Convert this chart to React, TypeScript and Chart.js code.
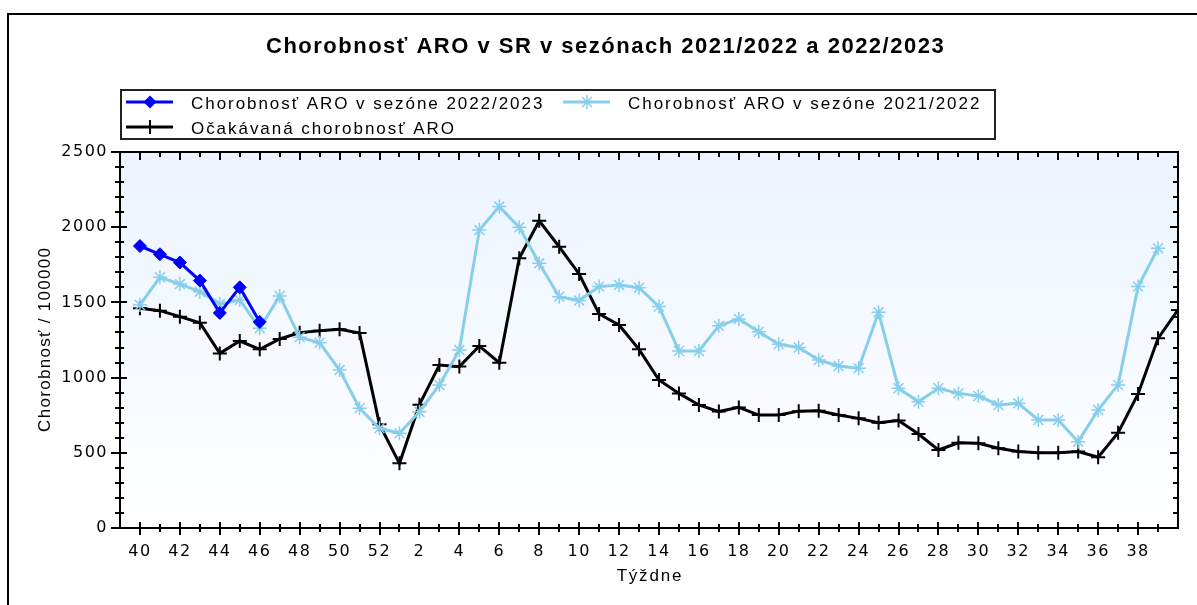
import React, { useEffect, useRef } from 'react';
import { Chart, registerables } from 'chart.js';

Chart.register(...registerables);

// ---- data ----
const weekLabels: string[] = [
  '40', '41', '42', '43', '44', '45', '46', '47', '48', '49', '50', '51', '52',
  '1', '2', '3', '4', '5', '6', '7', '8', '9', '10',
  '11', '12', '13', '14', '15', '16', '17', '18', '19', '20',
  '21', '22', '23', '24', '25', '26', '27', '28', '29', '30',
  '31', '32', '33', '34', '35', '36', '37', '38', '39', '40',
];

const seriesNames: string[] = [
  'Chorobnosť ARO v sezóne 2022/2023',
  'Chorobnosť ARO v sezóne 2021/2022',
  'Očakávaná chorobnosť ARO',
];

const season2223: number[] = [1875, 1820, 1765, 1645, 1430, 1600, 1370];

const season2122: number[] = [
  1483, 1667, 1622, 1571, 1490, 1516, 1328, 1543, 1268, 1232, 1050, 796, 663,
  630, 773, 951, 1183, 1981, 2137, 1999, 1760, 1538, 1512,
  1605, 1616, 1598, 1472, 1177, 1177, 1345, 1390, 1305, 1222,
  1200, 1117, 1077, 1062, 1434, 929, 840, 929, 895, 878,
  818, 829, 718, 718, 574, 785, 951, 1605, 1860,
];

const expected: number[] = [
  1461, 1445, 1405, 1365, 1161, 1243, 1188, 1257, 1299, 1312, 1321, 1296, 689,
  430, 820, 1084, 1073, 1210, 1099, 1793, 2043, 1870, 1689,
  1423, 1350, 1188, 984, 895, 818, 774, 802, 751, 751,
  777, 780, 751, 729, 700, 714, 625, 519, 567, 563,
  530, 508, 501, 501, 508, 470, 634, 891, 1261, 1450,
];

const chartTitle = 'Chorobnosť ARO v SR v sezónach 2021/2022 a 2022/2023';
const yTitle = 'Chorobnosť / 100000';
const xTitle = 'Týždne';
const yMin = 0;
const yMax = 2500;

// ---- style ----
const FONT = "'Liberation Sans', Arial, sans-serif";
const TICKFONT = "'DejaVu Sans', 'Liberation Sans', sans-serif";
const BLUE = '#0000ff';
const SKY = '#87ceeb';
const BLACK = '#000000';

const toPoints = (arr: number[]) => arr.map((v, i) => ({ x: i, y: v }));

function spaced(ctx: CanvasRenderingContext2D, text: string, x: number, y: number, sp: number, align: 'left' | 'center' | 'right') {
  ctx.letterSpacing = sp + 'px';
  ctx.textAlign = 'left';
  const w = ctx.measureText(text).width - sp;
  const sx = align === 'center' ? x - w / 2 : align === 'right' ? x - w : x;
  ctx.fillText(text, sx, y);
}

function marker(ctx: CanvasRenderingContext2D, kind: string, x: number, y: number, color: string) {
  ctx.save();
  ctx.strokeStyle = color;
  ctx.fillStyle = color;
  if (kind === 'diamond') {
    const r = 6.5;
    ctx.beginPath();
    ctx.moveTo(x, y - r); ctx.lineTo(x + r, y); ctx.lineTo(x, y + r); ctx.lineTo(x - r, y);
    ctx.closePath(); ctx.fill();
  } else if (kind === 'star') {
    const r = 7;
    ctx.lineWidth = 1.5;
    ctx.beginPath();
    for (let k = 0; k < 4; k++) {
      const a = (k * Math.PI) / 4;
      ctx.moveTo(x - r * Math.cos(a), y - r * Math.sin(a));
      ctx.lineTo(x + r * Math.cos(a), y + r * Math.sin(a));
    }
    ctx.stroke();
  } else {
    const r = 7;
    ctx.lineWidth = 2;
    ctx.beginPath();
    ctx.moveTo(x - r, y); ctx.lineTo(x + r, y);
    ctx.moveTo(x, y - r); ctx.lineTo(x, y + r);
    ctx.stroke();
  }
  ctx.restore();
}

const decorPlugin = {
  id: 'decor',
  beforeDraw(chart: any) {
    const { ctx, chartArea: a } = chart;
    ctx.save();
    const g = ctx.createLinearGradient(0, a.top, 0, a.bottom);
    g.addColorStop(0, '#ebf4ff');
    g.addColorStop(1, '#ffffff');
    ctx.fillStyle = g;
    ctx.fillRect(a.left, a.top, a.right - a.left, a.bottom - a.top);
    ctx.restore();
    ctx.letterSpacing = '1.5px';
  },
  beforeDatasetsDraw(chart: any) {
    chart.ctx.letterSpacing = '0px';
  },
  afterDraw(chart: any) {
    const { ctx, chartArea: a } = chart;
    const xs = chart.scales.x;
    const ys = chart.scales.y;
    ctx.save();
    ctx.letterSpacing = '0px';
    ctx.strokeStyle = '#000';
    ctx.lineWidth = 2;
    const line = (x1: number, y1: number, x2: number, y2: number) => {
      ctx.beginPath(); ctx.moveTo(x1, y1); ctx.lineTo(x2, y2); ctx.stroke();
    };
    // outer frame
    line(8, 14, 8, 605);
    line(7, 14, 1197, 14);
    // plot frame
    ctx.strokeRect(a.left, a.top, a.right - a.left, a.bottom - a.top);
    // y ticks
    ys.ticks.forEach((t: any) => {
      const y = Math.round(ys.getPixelForValue(t.value));
      const major = t.value % 500 === 0;
      line(a.left - (major ? 9 : 5), y, a.left + (major ? 7 : 4), y);
      line(a.right - (major ? 8 : 5), y, a.right, y);
    });
    // x ticks
    xs.ticks.forEach((t: any) => {
      const i = Math.round(t.value);
      if (i < 0 || i > weekLabels.length - 2) return;
      const x = Math.round(xs.getPixelForValue(i));
      const major = i % 2 === 0;
      line(x, a.bottom - (major ? 6 : 4), x, a.bottom + (major ? 7 : 4));
      line(x, a.top, x, a.top + (major ? 8 : 5));
    });

    // title
    ctx.fillStyle = '#000';
    ctx.textBaseline = 'alphabetic';
    ctx.font = `bold 22px ${FONT}`;
    spaced(ctx, chartTitle, 266, 53, 1.5, 'left');

    // axis titles
    ctx.font = `17px ${FONT}`;
    ctx.textBaseline = 'middle';
    spaced(ctx, xTitle, (a.left + a.right) / 2, 576, 1.8, 'center');
    ctx.save();
    ctx.translate(45, (a.top + a.bottom) / 2);
    ctx.rotate(-Math.PI / 2);
    spaced(ctx, yTitle, 0, 0, 1.3, 'center');
    ctx.restore();

    // legend
    ctx.lineWidth = 2;
    ctx.strokeStyle = '#222';
    ctx.strokeRect(121, 90, 874, 49);
    const items = [
      { name: seriesNames[0], color: BLUE, kind: 'diamond', x0: 126, y: 102 },
      { name: seriesNames[1], color: SKY, kind: 'star', x0: 563, y: 102 },
      { name: seriesNames[2], color: BLACK, kind: 'cross', x0: 126, y: 127 },
    ];
    items.forEach((it) => {
      ctx.strokeStyle = it.color;
      ctx.lineWidth = 3;
      line(it.x0, it.y, it.x0 + 47, it.y);
      marker(ctx, it.kind, it.x0 + 24, it.y, it.color);
      ctx.fillStyle = '#000';
      ctx.font = `17px ${FONT}`;
      ctx.textBaseline = 'alphabetic';
      spaced(ctx, it.name, it.x0 + 65, it.y + 7, 1.95, 'left');
    });
    ctx.restore();
  },
};

export default function App() {
  const ref = useRef<HTMLCanvasElement | null>(null);
  useEffect(() => {
    if (!ref.current) return;
    const chart = new Chart(ref.current, {
      type: 'line',
      data: {
        datasets: [
          {
            label: seriesNames[0],
            data: toPoints(season2223),
            borderColor: BLUE,
            backgroundColor: BLUE,
            borderWidth: 3,
            pointStyle: 'rectRot',
            pointRadius: 6.5,
            pointBorderWidth: 1,
            pointBackgroundColor: BLUE,
            pointBorderColor: BLUE,
            tension: 0,
          },
          {
            label: seriesNames[1],
            data: toPoints(season2122),
            borderColor: SKY,
            backgroundColor: SKY,
            borderWidth: 3,
            pointStyle: 'star',
            pointRadius: 7,
            pointBorderWidth: 1.5,
            pointBorderColor: SKY,
            tension: 0,
          },
          {
            label: seriesNames[2],
            data: toPoints(expected),
            borderColor: BLACK,
            backgroundColor: BLACK,
            borderWidth: 3,
            pointStyle: 'cross',
            pointRadius: 7,
            pointBorderWidth: 2,
            pointBorderColor: BLACK,
            tension: 0,
          },
        ],
      },
      options: {
        responsive: false,
        animation: false,
        events: [],
        layout: { padding: { top: 152, left: 0, right: 19, bottom: 0 } },
        plugins: {
          legend: { display: false },
          title: { display: false },
          tooltip: { enabled: false },
        },
        scales: {
          x: {
            type: 'linear',
            min: -1,
            max: weekLabels.length - 1,
            grid: { display: false, drawTicks: false },
            border: { display: false },
            ticks: {
              stepSize: 1,
              autoSkip: false,
              maxRotation: 0,
              minRotation: 0,
              color: '#000',
              padding: 14,
              font: { family: TICKFONT, size: 16 },
              callback: (v: any) => {
                const i = Math.round(Number(v));
                return i >= 0 && i <= weekLabels.length - 2 && i % 2 === 0 ? weekLabels[i] : '';
              },
            },
            afterFit: (s: any) => { s.height = 77; },
          },
          y: {
            min: yMin,
            max: yMax,
            grid: { display: false, drawTicks: false },
            border: { display: false },
            ticks: {
              stepSize: 100,
              autoSkip: false,
              color: '#000',
              padding: 12,
              font: { family: TICKFONT, size: 16 },
              callback: (v: any) => (Number(v) % 500 === 0 ? String(v) : ''),
            },
            afterFit: (s: any) => { s.width = 120; },
          },
        },
      } as any,
      plugins: [decorPlugin],
    });
    return () => chart.destroy();
  }, []);

  return (
    <div style={{ position: 'absolute', left: 0, top: 0, width: 1197, height: 605, background: '#fff' }}>
      <canvas ref={ref} width={1197} height={605} style={{ display: 'block' }} />
    </div>
  );
}
